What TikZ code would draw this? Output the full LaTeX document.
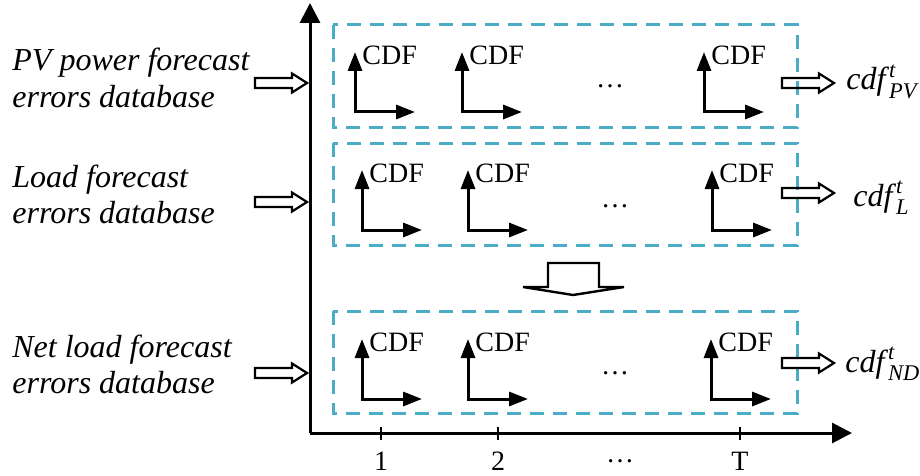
\documentclass[tikz,border=0pt]{standalone}
\usepackage{amsmath}
\usepackage{fontspec}
\setmainfont{Liberation Serif}
\usetikzlibrary{arrows.meta}
\definecolor{cajaazul}{RGB}{75,172,198}
\begin{document}
\begin{tikzpicture}[
    x=0.5pt, y=-0.5pt,
    eje/.style={line width=1.5pt, -{Triangle[length=10pt,width=10pt]}},
    cdfeje/.style={line width=1.5pt, {Triangle[length=9.5pt,width=7pt]}-{Triangle[length=9.5pt,width=7pt]}},
    caja/.style={draw=cajaazul, line width=1.5pt, dash pattern=on 7pt off 4.5pt},
    cdftxt/.style={anchor=base west, inner sep=0pt, font=\fontsize{14}{16}\selectfont},
    bdtxt/.style={anchor=base west, inner sep=0pt, align=left, font=\fontsize{16}{18}\selectfont\itshape},
    salida/.style={anchor=base west, inner sep=0pt, font=\fontsize{16}{18}\selectfont},
    marca/.style={inner sep=0pt, font=\fontsize{14}{16}\selectfont},
    flechahueca/.pic={
      \draw[line width=1.1pt, line join=miter] (0,-5) -- (37,-5) -- (37,-9.5) -- (52,0)
        -- (37,9.5) -- (37,5) -- (0,5) -- cycle;
    }
  ]
    \useasboundingbox (0,0) rectangle (920,476);

    % --- Ejes principales ---
    \coordinate (origen) at (310,433);
    \coordinate (ejeY) at (310,3);
    \coordinate (ejeX) at (852,433);
    \draw[eje] (origen) -- (ejeY);
    \draw[eje] (origen) -- (ejeX);

    % Marcas del eje de tiempo
    \foreach \xt/\et [count=\k] in {381/1, 498/2, 740/T} {
      \draw[line width=1pt] (\xt,427) -- (\xt,440);
      \node[marca] (t\k) at (\xt,461) {\et};
    }
    \node[marca] (tpuntos) at (620,461) {\dots};

    % --- Cajas discontinuas ---
    \draw[caja] (333,25) rectangle (797,127);
    \draw[caja] (333,143) rectangle (797,245);
    \draw[caja] (333,311) rectangle (797,413);

    % --- Ejes CDF en cada caja ---
    \foreach \yc/\xa/\xb/\xc [count=\r] in {112/355/462/704, 230/362/468/712, 399/362/468/711} {
      \foreach \xx [count=\c] in {\xa,\xb,\xc} {
        \draw[cdfeje] (\xx,\yc-60) -- (\xx,\yc) -- (\xx+60,\yc);
        \node[cdftxt] (cdf\r\c) at (\xx+7,\yc-47.5) {CDF};
      }
    }
    \node[marca] (puntos1) at (610,86) {\dots};
    \node[marca] (puntos2) at (615,206) {\dots};
    \node[marca] (puntos3) at (615,373) {\dots};

    % --- Bases de datos (entradas) ---
    \node[bdtxt] (bdpv) at (12,107) {PV power forecast\\errors database};
    \node[bdtxt] (bdl) at (12,223) {Load forecast\\errors database};
    \node[bdtxt] (bdnd) at (12,393) {Net load forecast\\errors database};
    \foreach \ye in {83, 202, 373}
      \pic at (255,\ye) {flechahueca};

    % --- Salidas ---
    \foreach \ys in {83, 193, 363}
      \pic at (782,\ys) {flechahueca};
    \node[salida] (cdfpv) at (846,90) {\textit{cdf}$^{\textit{t}}_{\textit{PV}}$};
    \node[salida] (cdfl) at (853,206) {\textit{cdf}$^{\textit{t}}_{\textit{L}}$};
    \node[salida] (cdfnd) at (845,372) {\textit{cdf}$^{\textit{t}}_{\textit{ND}}$};

    % Flecha hueca hacia abajo (suma)
    \draw[line width=1.2pt, line join=miter] (548,263) -- (599,263) -- (599,287) -- (624,287)
      -- (573,295) -- (523,287) -- (548,287) -- cycle;

\end{tikzpicture}
\end{document}
